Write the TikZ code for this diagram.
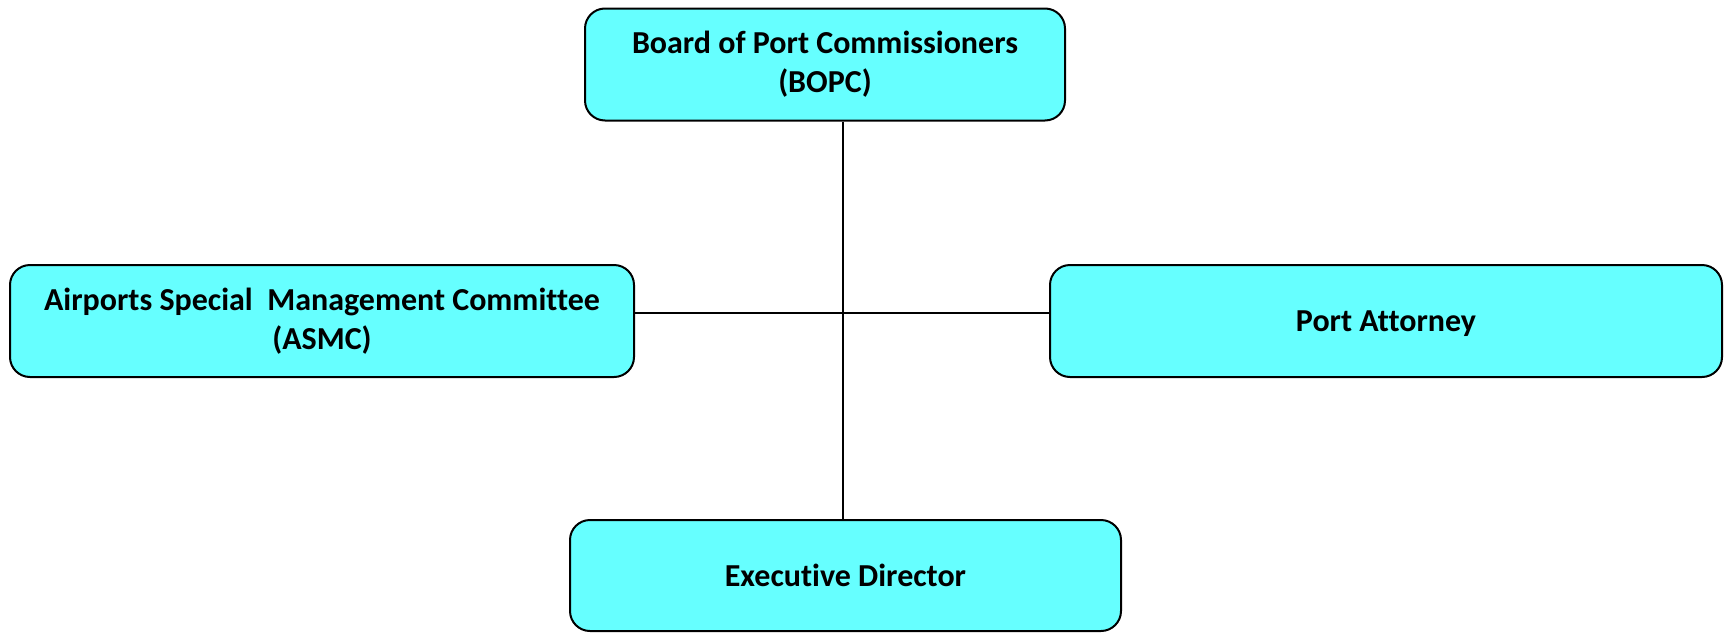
\documentclass[tikz,border=0pt]{standalone}
\usepackage{fontspec}
\setmainfont[Ligatures=NoCommon]{Carlito}
\definecolor{boxcyan}{RGB}{102,255,255}
\tikzset{
  orgbox/.style={draw=black, fill=boxcyan, rounded corners=10pt, line width=1pt,
    align=center, font=\bfseries\fontsize{16}{19.5}\selectfont, inner sep=0pt},
  onerow/.style={text depth=0pt},
}

\begin{document}
\begin{tikzpicture}[x=0.5pt, y=-0.5pt, line width=1pt]
  \useasboundingbox (0,0) rectangle (1729,632);
  \node[orgbox, minimum width=480*0.5pt, minimum height=112*0.5pt] (bopc) at (825,64.5)
    {Board of Port Commissioners\\(BOPC)};
  \node[orgbox, minimum width=624*0.5pt, minimum height=112*0.5pt] (asmc) at (322,321)
    {Airports Special\ \ Management Committee\\(ASMC)};
  \node[orgbox, onerow, minimum width=672*0.5pt, minimum height=112*0.5pt] (atty) at (1386,321)
    {Port Attorney};
  \node[orgbox, onerow, minimum width=551*0.5pt, minimum height=111*0.5pt] (exec) at (845.5,575.5)
    {Executive Director};
  \coordinate (hub) at (842.5,313);
  \draw (hub |- bopc.south) -- (hub |- exec.north);
  \draw (asmc.east |- hub) -- (atty.west |- hub);
\end{tikzpicture}
\end{document}
